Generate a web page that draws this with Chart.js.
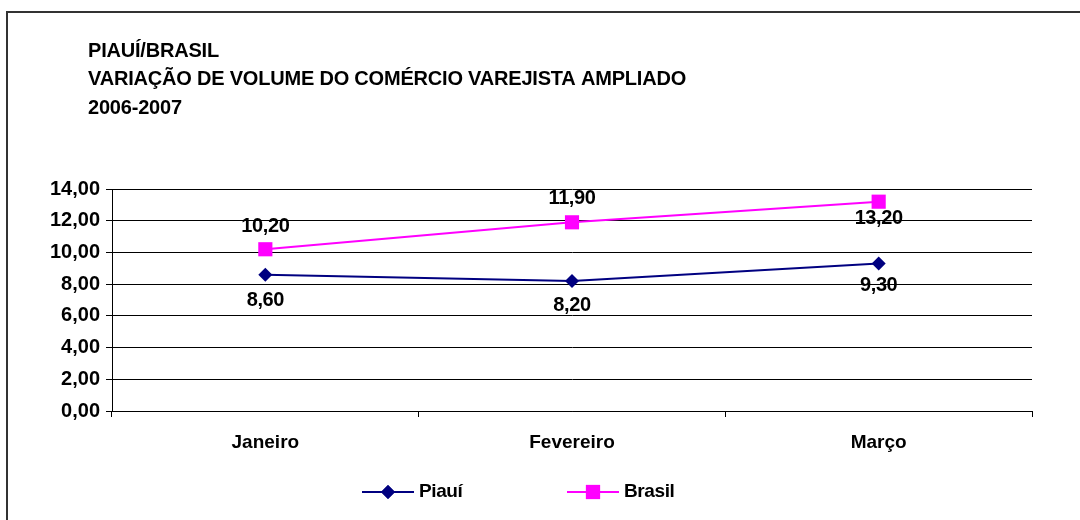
<!DOCTYPE html>
<html>
<head>
<meta charset="utf-8">
<script src="https://cdn.jsdelivr.net/npm/chart.js@4.4.1/dist/chart.umd.min.js"></script>
<style>
  html, body { margin: 0; padding: 0; background: #fff; }
  #wrap { width: 1080px; height: 520px; position: relative; }
</style>
</head>
<body>
<div id="wrap"><canvas id="chart" width="1080" height="520"></canvas></div>
<script>
// dados do gráfico
const meses = ['Janeiro', 'Fevereiro', 'Março'];
const piaui = [8.6, 8.2, 9.3];
const brasil = [10.2, 11.9, 13.2];
const titulo = ['PIAUÍ/BRASIL', 'VARIAÇÃO DE VOLUME DO COMÉRCIO VAREJISTA AMPLIADO', '2006-2007'];

const AZUL = '#000080';
const MAGENTA = '#ff00ff';
const FONTE = '"Liberation Sans", Arial, sans-serif';

function fmt(v) {
  return v.toFixed(2).replace('.', ',');
}

// moldura, título, rótulos dos pontos e legenda
const extras = {
  id: 'extras',
  beforeDraw(chart) {
    const ctx = chart.ctx;
    ctx.save();
    ctx.fillStyle = '#fff';
    ctx.fillRect(0, 0, chart.width, chart.height);
    ctx.strokeStyle = '#333';
    ctx.lineWidth = 2;
    ctx.beginPath();
    ctx.moveTo(7, 520);
    ctx.lineTo(7, 12);
    ctx.lineTo(1080, 12);
    ctx.stroke();

    ctx.fillStyle = '#000';
    ctx.font = 'bold 20px ' + FONTE;
    ctx.letterSpacing = '-0.2px';
    ctx.textBaseline = 'middle';
    ctx.textAlign = 'left';
    const ys = [51, 79, 108];
    titulo.forEach((t, i) => ctx.fillText(t, 88, ys[i]));
    ctx.restore();
  },
  afterDatasetsDraw(chart) {
    const ctx = chart.ctx;
    ctx.save();
    ctx.fillStyle = '#000';
    ctx.font = 'bold 20px ' + FONTE;
    ctx.letterSpacing = '-0.4px';
    ctx.textAlign = 'center';
    ctx.textBaseline = 'middle';
    const desloc = [[26, 25, 22], [-23, -24, 17]];
    chart.data.datasets.forEach((ds, di) => {
      chart.getDatasetMeta(di).data.forEach((pt, i) => {
        ctx.fillText(fmt(ds.data[i]), pt.x, pt.y + desloc[di][i]);
      });
    });

    // legenda
    const ly = 492;
    const itens = [
      { x: 362, cor: AZUL, estilo: 'rectRot', raio: 7, texto: 'Piauí' },
      { x: 567, cor: MAGENTA, estilo: 'rect', raio: 10, texto: 'Brasil' }
    ];
    itens.forEach(it => {
      ctx.strokeStyle = it.cor;
      ctx.lineWidth = 2;
      ctx.beginPath();
      ctx.moveTo(it.x, ly);
      ctx.lineTo(it.x + 52, ly);
      ctx.stroke();
      ctx.fillStyle = it.cor;
      Chart.helpers.drawPoint(ctx, { pointStyle: it.estilo, radius: it.raio, borderWidth: 0 }, it.x + 26, ly);
      ctx.fill();
      ctx.fillStyle = '#000';
      ctx.font = 'bold 19px ' + FONTE;
      ctx.textAlign = 'left';
      ctx.fillText(it.texto, it.x + 57, ly);
    });
    ctx.restore();
  }
};

new Chart(document.getElementById('chart'), {
  type: 'line',
  data: {
    labels: meses,
    datasets: [{
      label: 'Piauí',
      data: piaui,
      borderColor: AZUL,
      backgroundColor: AZUL,
      borderWidth: 2,
      pointStyle: 'rectRot',
      pointRadius: 7,
      pointBorderWidth: 0,
      tension: 0
    }, {
      label: 'Brasil',
      data: brasil,
      borderColor: MAGENTA,
      backgroundColor: MAGENTA,
      borderWidth: 2,
      pointStyle: 'rect',
      pointRadius: 10,
      pointBorderWidth: 0,
      tension: 0
    }]
  },
  options: {
    responsive: false,
    animation: false,
    events: [],
    layout: { padding: { top: 189, left: 0, right: 48, bottom: 0 } },
    plugins: {
      legend: { display: false },
      title: { display: false },
      tooltip: { enabled: false }
    },
    scales: {
      x: {
        offset: true,
        afterFit(s) { s.height = 109; },
        grid: { offset: true, drawOnChartArea: false, tickLength: 6, color: '#000' },
        border: { color: '#000', width: 1 },
        ticks: { color: '#000', font: { family: FONTE, size: 19, weight: 'bold' }, padding: 14 }
      },
      y: {
        min: 0,
        max: 14,
        afterFit(s) { s.width = 112; },
        grid: { color: '#000', tickLength: 6 },
        border: { color: '#000', width: 1 },
        ticks: {
          stepSize: 2,
          color: '#000',
          padding: 6,
          font: { family: FONTE, size: 20, weight: 'bold' },
          callback: v => fmt(v)
        }
      }
    }
  },
  plugins: [extras]
});
</script>
</body>
</html>
